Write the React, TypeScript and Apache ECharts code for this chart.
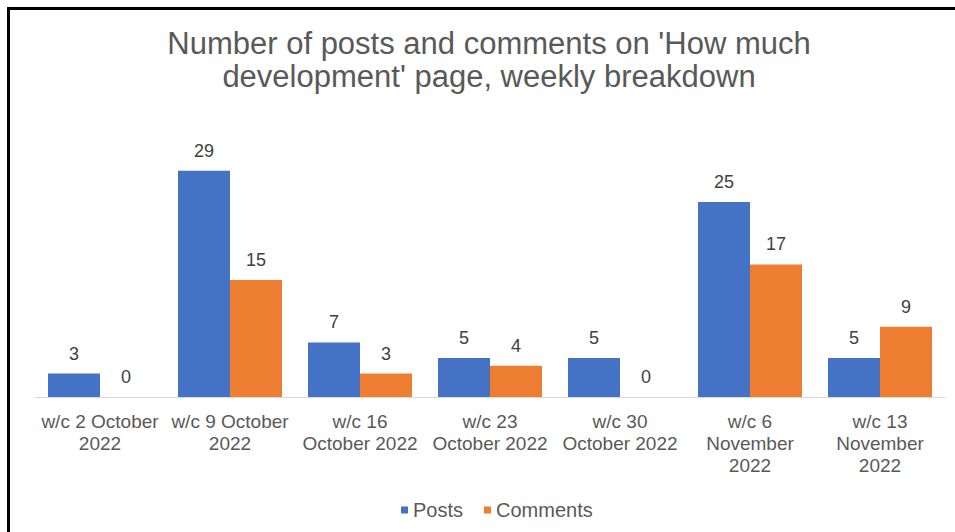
import React, { useEffect, useRef } from "react";
import * as echarts from "echarts";

const categories = [
  "w/c 2 October\n2022",
  "w/c 9 October\n2022",
  "w/c 16\nOctober 2022",
  "w/c 23\nOctober 2022",
  "w/c 30\nOctober 2022",
  "w/c 6\nNovember\n2022",
  "w/c 13\nNovember\n2022",
];
const posts = [3, 29, 7, 5, 5, 25, 5];
const comments = [0, 15, 3, 4, 0, 17, 9];
const titleText = "Number of posts and comments on 'How much\ndevelopment' page, weekly breakdown";

const FONT = "'Liberation Sans', Arial, sans-serif";

export default function App() {
  const ref = useRef<HTMLDivElement>(null);
  useEffect(() => {
    if (!ref.current) return;
    const chart = echarts.init(ref.current, undefined, { renderer: "svg" });
    const label = {
      show: true,
      position: "top" as const,
      distance: 11,
      color: "#404040",
      fontSize: 18,
      fontFamily: FONT,
    };
    chart.setOption({
      animation: false,
      backgroundColor: "#ffffff",
      title: {
        text: titleText,
        left: 484,
        top: 22,
        textAlign: "center",
        textStyle: {
          color: "#595959",
          fontSize: 31,
          fontWeight: "normal",
          fontFamily: FONT,
          lineHeight: 33,
        },
      },
      legend: {
        bottom: 7,
        left: 396,
        itemWidth: 7,
        itemHeight: 7,
        itemGap: 21,
        icon: "rect",
        textStyle: { color: "#595959", fontSize: 20, fontFamily: FONT },
        data: ["Posts", "Comments"],
      },
      grid: { left: 35, right: 10, top: 124, bottom: 135 },
      xAxis: {
        type: "category",
        data: categories,
        axisTick: { show: false },
        axisLine: { lineStyle: { color: "#d9d9d9", width: 1 } },
        axisLabel: {
          color: "#595959",
          fontSize: 19,
          fontFamily: FONT,
          lineHeight: 22,
          margin: 13,
          interval: 0,
        },
      },
      yAxis: {
        type: "value",
        min: 0,
        max: 35,
        show: false,
        splitLine: { show: false },
      },
      series: [
        {
          name: "Posts",
          type: "bar",
          data: posts,
          barGap: "0%",
          barCategoryGap: "20%",
          itemStyle: { color: "#4472C4" },
          label,
        },
        {
          name: "Comments",
          type: "bar",
          data: comments,
          itemStyle: { color: "#ED7D31" },
          label,
        },
      ],
      graphic: [
        {
          type: "polyline",
          shape: { points: [[8.5, 532], [8.5, 8.5], [955, 8.5]] },
          style: { stroke: "#000000", lineWidth: 3, fill: "none" },
          silent: true,
        },
      ],
    });
    return () => chart.dispose();
  }, []);
  return (
    <div
      ref={ref}
      style={{ position: "absolute", left: 0, top: 0, width: 955, height: 532 }}
    />
  );
}
